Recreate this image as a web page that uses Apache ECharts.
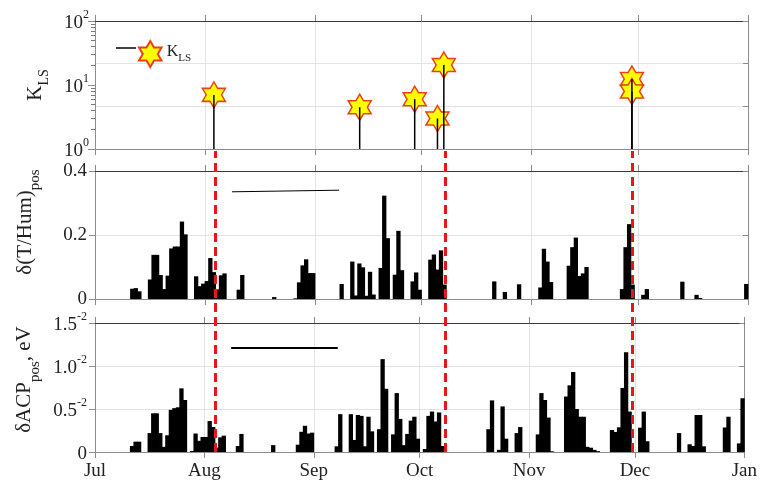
<!DOCTYPE html>
<html><head><meta charset="utf-8">
<script src="https://cdn.jsdelivr.net/npm/echarts@6/dist/echarts.min.js"></script>
<style>html,body{margin:0;padding:0;background:#fff}#c{width:760px;height:485px}</style>
</head><body><div id="c"></div>
<script>
// ---------- data ----------
const monthTicks = ['2017-07-01','2017-08-01','2017-09-01','2017-10-01','2017-11-01','2017-12-01','2018-01-01'];
const monthLabels = ['Jul','Aug','Sep','Oct','Nov','Dec','Jan'];

const eventTimes = ['2017-08-03 12:00','2017-09-13 14:00','2017-09-29 02:00','2017-10-05 12:00','2017-10-07 07:00','2017-11-29 07:00','2017-11-29 07:00'];
const klsValues = [7.0, 4.5, 6.0, 3.0, 20.5, 12.4, 7.9];

const markerTimes = ['2017-08-03 19:00','2017-10-07 19:00','2017-11-29 07:00'];

const barDays = ['2017-07-11','2017-07-12','2017-07-13','2017-07-16','2017-07-17','2017-07-18','2017-07-19','2017-07-20','2017-07-21','2017-07-22',
'2017-07-23','2017-07-24','2017-07-25','2017-07-26','2017-07-28','2017-07-29','2017-07-30','2017-07-31','2017-08-01','2017-08-02',
'2017-08-03','2017-08-04','2017-08-05','2017-08-06','2017-08-10','2017-08-11','2017-08-20','2017-08-26','2017-08-27','2017-08-28',
'2017-08-29','2017-08-30','2017-08-31','2017-09-07','2017-09-08','2017-09-11','2017-09-12','2017-09-13','2017-09-14','2017-09-15',
'2017-09-16','2017-09-17','2017-09-19','2017-09-20','2017-09-21','2017-09-23','2017-09-24','2017-09-25','2017-09-26','2017-09-27',
'2017-09-28','2017-09-29','2017-09-30','2017-10-02','2017-10-03','2017-10-04','2017-10-05','2017-10-06','2017-10-07','2017-10-20',
'2017-10-21','2017-10-23','2017-10-24','2017-10-25','2017-10-28','2017-10-29','2017-11-03','2017-11-04','2017-11-05','2017-11-06',
'2017-11-07','2017-11-11','2017-11-12','2017-11-13','2017-11-14','2017-11-15','2017-11-16','2017-11-17','2017-11-18','2017-11-19',
'2017-11-20','2017-11-24','2017-11-25','2017-11-26','2017-11-27','2017-11-28','2017-11-29','2017-12-02','2017-12-03','2017-12-04',
'2017-12-13','2017-12-16','2017-12-17','2017-12-18','2017-12-19','2017-12-20','2017-12-26','2017-12-27','2017-12-30','2017-12-31'];

const tHumValues = [0.032,0.034,0.024,0.061,0.138,0.138,0.075,0.031,0.073,0.158,
0.164,0.164,0.242,0.202,0,0.071,0.040,0.048,0.056,0.128,
0.084,0.030,0.074,0.080,0.029,0.075,0.006,0.002,0.052,0.105,
0.124,0.081,0.081,0,0.047,0.117,0.011,0.111,0.099,0.010,
0.085,0.014,0.097,0.323,0.190,0.076,0.213,0.090,0,0,
0.055,0.083,0.029,0,0.123,0.139,0.092,0.152,0.045,0,
0.055,0,0.022,0,0.046,0,0.036,0.157,0.117,0.053,
0,0.104,0.162,0.192,0.072,0.080,0.100,0,0,0,
0,0,0,0.031,0.162,0.234,0.045,0.013,0.031,0,
0.054,0,0.013,0.003,0,0,0,0,0,0.047];

// units of 1e-2 eV
const acpValues = [0.07,0.12,0.12,0.22,0.45,0.45,0.22,0.06,0.195,0.49,
0.51,0.52,0.74,0.605,0.012,0.215,0.13,0.175,0.175,0.36,
0.29,0.05,0.17,0.19,0.07,0.21,0.08,0,0.085,0.235,
0.305,0.215,0.225,0.066,0.44,0.44,0.14,0.43,0.42,0.066,
0.41,0.24,0.265,1.08,0.735,0.205,0.685,0.385,0.08,0.21,
0.365,0.41,0.155,0.035,0.42,0.47,0.355,0.46,0.07,0.265,
0.6,0.025,0.53,0.155,0.22,0.29,0.205,0.685,0.605,0.4,
0.008,0.645,0.775,0.93,0.5,0.41,0.41,0.06,0.05,0.025,
0.01,0.256,0.233,0.287,0.745,1.16,0.47,0.283,0.47,0.125,
0.22,0.09,0.07,0.43,0.43,0.066,0.285,0.41,0.1,0.625];

const kMinorTicks = [2,3,4,5,6,7,8,9,20,30,40,50,60,70,80,90];
const blankLineTimes = ['2017-08-08 14:00','2017-09-07 19:00'];
const humLineY = [0.335, 0.340];
const acpLineY = [1.215, 1.215];

// ---------- build ----------
const P = s => echarts.number.parseDate(s).getTime();
const HALF_DAY = 12 * 3600 * 1000;
const tMin = P(monthTicks[0]), tMax = P(monthTicks[monthTicks.length - 1]);
const tickVals = monthTicks.map(P);
const FONT = "'Liberation Serif','Times New Roman',serif";
const TXT = '#222';
const AX = '#8c8c8c';
const GRIDC = '#e3e3e3';

const starPath = 'path://M50,0L64.43,25L93.3,25L78.87,50L93.3,75L64.43,75L50,100L35.57,75L6.7,75L21.13,50L6.7,25L35.57,25Z';

function monthFmt(v) {
  const i = tickVals.indexOf(v);
  return i >= 0 ? monthLabels[i] : '';
}

function xAxesFor(gi, showLabels) {
  return [
    { gridIndex: gi, type: 'value', min: tMin, max: tMax, position: 'bottom',
      axisLine: { show: true, onZero: false, lineStyle: { color: AX, width: 1 } },
      axisTick: { show: true, inside: false, length: 6, customValues: tickVals, lineStyle: { color: AX } },
      axisLabel: { show: showLabels, customValues: tickVals, formatter: monthFmt, fontFamily: FONT, fontSize: 19, color: TXT, margin: 10, hideOverlap: false, showMinLabel: true, showMaxLabel: true },
      splitLine: { show: true, lineStyle: { color: GRIDC, width: 1 } } },
    { gridIndex: gi, type: 'value', min: tMin, max: tMax, position: 'top',
      axisLine: { show: true, onZero: false, lineStyle: { color: '#3a3a3a', width: 1 } },
      axisTick: { show: true, inside: false, length: 6, customValues: tickVals, lineStyle: { color: AX } },
      axisLabel: { show: false }, splitLine: { show: false } }
  ];
}

const xAxis = [].concat(xAxesFor(0, false), xAxesFor(1, false), xAxesFor(2, true),
  [{ gridIndex: 3, type: 'value', min: tMin, max: tMax, show: false }]);

const supRich = {
  b: { fontFamily: FONT, fontSize: 19, color: TXT, lineHeight: 24, verticalAlign: 'bottom' },
  s: { fontFamily: FONT, fontSize: 12, color: TXT, lineHeight: 24, verticalAlign: 'top' }
};

const yAxis = [
  // grid 0
  { gridIndex: 0, type: 'log', logBase: 10, min: 1, max: 100, position: 'left',
    axisLine: { show: true, lineStyle: { color: AX } },
    axisTick: { show: true, length: 7, lineStyle: { color: AX } },
    axisLabel: { formatter: v => '{b|10}{s|' + Math.round(Math.log10(v)) + '}', rich: supRich, margin: 6 },
    splitLine: { show: false },
    name: '{k|K}{s|LS}', nameLocation: 'middle', nameRotate: 90, nameGap: 44,
    nameTextStyle: { rich: {
      k: { fontFamily: FONT, fontSize: 21, color: TXT, lineHeight: 26, verticalAlign: 'top' },
      s: { fontFamily: FONT, fontSize: 14, color: TXT, lineHeight: 26, verticalAlign: 'bottom' } } } },
  { gridIndex: 0, type: 'log', logBase: 10, min: 1, max: 100, position: 'left',
    axisLine: { show: false },
    axisTick: { show: true, length: 4, customValues: kMinorTicks, lineStyle: { color: '#777' } },
    axisLabel: { show: false }, splitLine: { show: false } },
  { gridIndex: 0, type: 'value', min: 0, max: 3, interval: 1, position: 'right',
    axisLine: { show: true, lineStyle: { color: AX } },
    axisTick: { show: true, inside: true, length: 5, lineStyle: { color: AX } },
    axisLabel: { show: false },
    splitLine: { show: true, lineStyle: { color: GRIDC } } },
  // grid 1
  { gridIndex: 1, type: 'value', min: 0, max: 0.4, interval: 0.2, position: 'left',
    axisLine: { show: true, lineStyle: { color: AX } },
    axisTick: { show: true, length: 6, lineStyle: { color: AX } },
    axisLabel: { fontFamily: FONT, fontSize: 19, color: TXT, margin: 8, formatter: v => (v === 0 ? '0' : String(+v.toFixed(1))) },
    splitLine: { show: true, lineStyle: { color: GRIDC } },
    name: '{a|δ(T/Hum)}{s|pos}', nameLocation: 'middle', nameRotate: 90, nameGap: 52,
    nameTextStyle: { padding: [0, 0, 0, 26], rich: {
      a: { fontFamily: FONT, fontSize: 21, color: TXT, lineHeight: 28, verticalAlign: 'top' },
      s: { fontFamily: FONT, fontSize: 15, color: TXT, lineHeight: 28, verticalAlign: 'bottom' } } } },
  { gridIndex: 1, type: 'value', min: 0, max: 0.4, interval: 0.2, position: 'right',
    axisLine: { show: true, lineStyle: { color: AX } },
    axisTick: { show: true, inside: true, length: 5, lineStyle: { color: AX } },
    axisLabel: { show: false }, splitLine: { show: false } },
  // grid 2
  { gridIndex: 2, type: 'value', min: 0, max: 1.5, interval: 0.5, position: 'left',
    axisLine: { show: true, lineStyle: { color: AX } },
    axisTick: { show: true, length: 6, lineStyle: { color: AX } },
    axisLabel: { margin: 8, rich: supRich, formatter: v => (v === 0 ? '{b|0}' : '{b|' + v.toFixed(1) + '}{s|-2}') },
    splitLine: { show: true, lineStyle: { color: GRIDC } },
    name: '{a|δACP}{s|pos}{a|, eV}', nameLocation: 'middle', nameRotate: 90, nameGap: 52,
    nameTextStyle: { padding: [0, 0, 0, 16], rich: {
      a: { fontFamily: FONT, fontSize: 21, color: TXT, lineHeight: 28, verticalAlign: 'top' },
      s: { fontFamily: FONT, fontSize: 15, color: TXT, lineHeight: 28, verticalAlign: 'bottom' } } } },
  { gridIndex: 2, type: 'value', min: 0, max: 1.5, interval: 0.5, position: 'right',
    axisLine: { show: true, lineStyle: { color: AX } },
    axisTick: { show: true, inside: true, length: 5, lineStyle: { color: AX } },
    axisLabel: { show: false }, splitLine: { show: false } },
  // grid 3 (overlay)
  { gridIndex: 3, type: 'value', min: 0, max: 1, show: false }
];

const klsData = eventTimes.map((t, i) => [P(t), klsValues[i]]);
const humData = barDays.map((d, i) => [P(d) + HALF_DAY, tHumValues[i]]);
const acpData = barDays.map((d, i) => [P(d) + HALF_DAY, acpValues[i]]);

const option = {
  animation: false,
  backgroundColor: '#fff',
  grid: [
    { left: 95, right: 12, top: 21, height: 128 },
    { left: 95, right: 12, top: 171, height: 128 },
    { left: 95, right: 12, top: 323, height: 129 },
    { left: 95, right: 12, top: 151, height: 301 }
  ],
  xAxis, yAxis,
  legend: {
    left: 133, top: 35, itemWidth: 23, itemHeight: 26, itemGap: 6,
    data: ['KLS'],
    formatter: () => '{k|K}{s|LS}',
    textStyle: { rich: {
      k: { fontFamily: FONT, fontSize: 16, color: TXT, lineHeight: 20, verticalAlign: 'top' },
      s: { fontFamily: FONT, fontSize: 11, color: TXT, lineHeight: 20, verticalAlign: 'bottom' } } }
  },
  graphic: [
    { type: 'line', shape: { x1: 116, y1: 48, x2: 136, y2: 48 }, style: { stroke: '#000', lineWidth: 1.5 }, z: 100 }
  ],
  series: [
    { name: 'KLS', type: 'scatter', xAxisIndex: 0, yAxisIndex: 0, z: 3,
      symbol: starPath, symbolSize: [23, 26],
      itemStyle: { color: '#ffff00', borderColor: '#e8401c', borderWidth: 1.5, opacity: 1 },
      data: klsData },
    { name: 'stems', type: 'custom', xAxisIndex: 0, yAxisIndex: 0, z: 4,
      renderItem: (params, api) => {
        const top = api.coord([api.value(0), api.value(1)]);
        const base = api.coord([api.value(0), 1]);
        return { type: 'line', shape: { x1: top[0], y1: top[1], x2: base[0], y2: base[1] },
                 style: { stroke: '#000', lineWidth: 1.5 } };
      },
      data: klsData },
    { name: 'tHum', type: 'bar', xAxisIndex: 2, yAxisIndex: 3, barWidth: 4.3,
      itemStyle: { color: '#000' }, data: humData,
      markLine: { silent: true, symbol: 'none', label: { show: false },
        lineStyle: { color: '#000', width: 1, type: 'solid' },
        data: [[{ coord: [P(blankLineTimes[0]), humLineY[0]] }, { coord: [P(blankLineTimes[1]), humLineY[1]] }]] } },
    { name: 'acp', type: 'bar', xAxisIndex: 4, yAxisIndex: 5, barWidth: 4.3,
      itemStyle: { color: '#000' }, data: acpData,
      markLine: { silent: true, symbol: 'none', label: { show: false },
        lineStyle: { color: '#000', width: 2, type: 'solid' },
        data: [[{ coord: [P(blankLineTimes[0]), acpLineY[0]] }, { coord: [P(blankLineTimes[1]), acpLineY[1]] }]] } },
    { name: 'events', type: 'line', xAxisIndex: 6, yAxisIndex: 7, z: 10, data: [],
      markLine: { silent: true, symbol: 'none', label: { show: false },
        lineStyle: { color: '#e8161b', width: 3, type: [9, 5] },
        data: markerTimes.map(t => ({ xAxis: P(t) })) } }
  ]
};

const chart = echarts.init(document.getElementById('c'), null, { renderer: 'canvas' });
chart.setOption(option);
</script>
</body></html>
